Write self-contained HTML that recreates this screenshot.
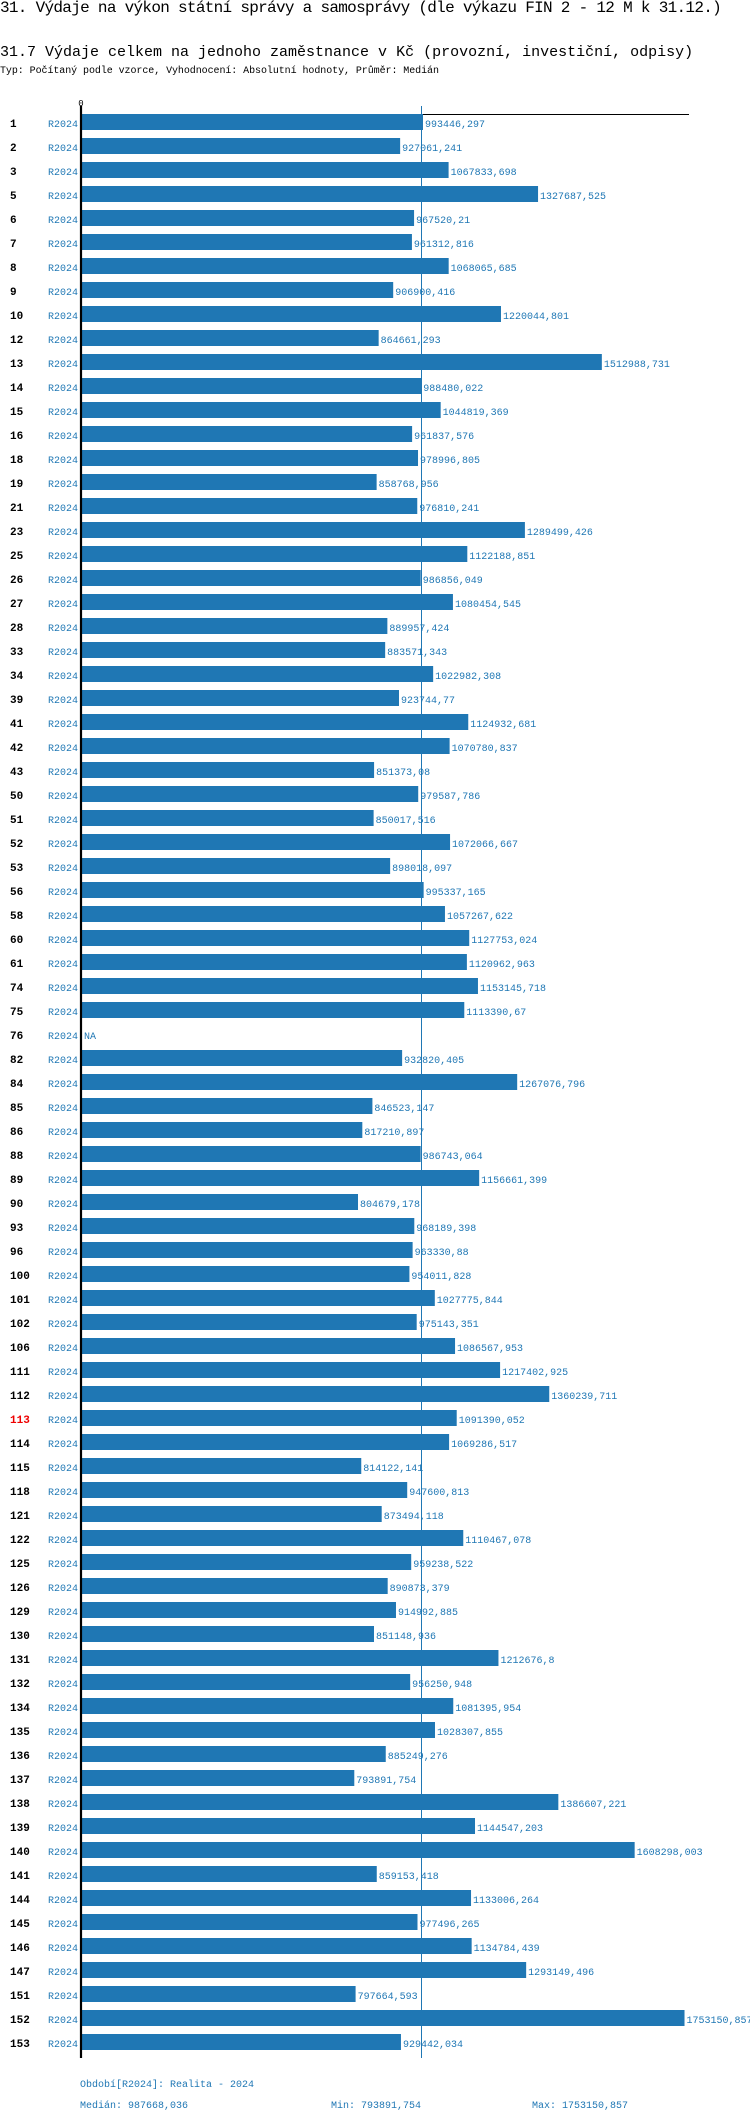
<!DOCTYPE html>
<html><head><meta charset="utf-8">
<style>
html,body{margin:0;padding:0;background:#fff;}
body{width:750px;height:2118px;overflow:hidden;position:relative;font-family:"Liberation Mono",monospace;}
.t{position:absolute;left:0;white-space:nowrap;color:#000;}
</style></head>
<body>
<div class="t" style="top:-1px;font-size:16px;letter-spacing:-0.7px;">31. Výdaje na výkon státní správy a samosprávy (dle výkazu FIN 2 - 12 M k 31.12.)</div>
<div class="t" style="top:44px;font-size:15px;letter-spacing:0px;">31.7 Výdaje celkem na jednoho zaměstnance v Kč (provozní, investiční, odpisy)</div>
<div class="t" style="top:66px;font-size:10px;letter-spacing:-0.07px;">Typ: Počítaný podle vzorce, Vyhodnocení: Absolutní hodnoty, Průměr: Medián</div>
<svg id="chart" width="750" height="2118" style="position:absolute;left:0;top:0" font-family="Liberation Mono, monospace"></svg>
<script>
const categories=[1,2,3,5,6,7,8,9,10,12,13,14,15,16,18,19,21,23,25,26,27,28,33,34,39,41,42,43,50,51,52,53,56,58,60,61,74,75,76,82,84,85,86,88,89,90,93,96,100,101,102,106,111,112,113,114,115,118,121,122,125,126,129,130,131,132,134,135,136,137,138,139,140,141,144,145,146,147,151,152,153];
const values=[993446.297,927061.241,1067833.698,1327687.525,967520.21,961312.816,1068065.685,906900.416,1220044.801,864661.293,1512988.731,988480.022,1044819.369,961837.576,978996.805,858768.956,976810.241,1289499.426,1122188.851,986856.049,1080454.545,889957.424,883571.343,1022982.308,923744.77,1124932.681,1070780.837,851373.08,979587.786,850017.516,1072066.667,898018.097,995337.165,1057267.622,1127753.024,1120962.963,1153145.718,1113390.67,null,932820.405,1267076.796,846523.147,817210.897,986743.064,1156661.399,804679.178,968189.398,963330.88,954011.828,1027775.844,975143.351,1086567.953,1217402.925,1360239.711,1091390.052,1069286.517,814122.141,947600.813,873494.118,1110467.078,959238.522,890873.379,914992.885,851148.936,1212676.8,956250.948,1081395.954,1028307.855,885249.276,793891.754,1386607.221,1144547.203,1608298.003,859153.418,1133006.264,977496.265,1134784.439,1293149.496,797664.593,1753150.857,929442.034];
const periodLabel="R2024";
const highlight=113;
const median=987668.036, minV=793891.754, maxV=1753150.857;

const NS="http://www.w3.org/2000/svg";
const svg=document.getElementById('chart');
const x0=81, scale=(421-81)/987668.036;
const xs=v=>x0+v*scale;
const ys=i=>123+i*24;
const blue="#1f77b4";
function mk(tag,attrs,txt){const e=document.createElementNS(NS,tag);for(const k in attrs)e.setAttribute(k,attrs[k]);if(txt!==undefined)e.textContent=txt;svg.appendChild(e);return e;}
const fmt=v=>String(v).replace('.',',');

let e;
e=mk('line',{x1:xs(median)+0.5,x2:xs(median)+0.5,y1:106,y2:2058,stroke:blue,'stroke-width':1});


e=mk('text',{x:x0,y:106,'font-size':9,'text-anchor':'middle',fill:'#000'},'0');


e=mk('line',{x1:x0,x2:689,y1:114.5,y2:114.5,stroke:'#000','stroke-width':1});



categories.forEach((c,i)=>{
  const cy=ys(i);
  let t=mk('text',{x:10,y:cy+4,'font-size':11,'font-weight':'bold',fill:c===highlight?'#e00':'#000'},String(c));
  
  
  t=mk('text',{x:78,y:cy+4,'font-size':10,'text-anchor':'end',fill:blue},periodLabel);
  
  
  const v=values[i];
  if(v===null){
    t=mk('text',{x:84,y:cy+4,'font-size':10,fill:blue},'NA');
    
    
    return;
  }
  const b=mk('rect',{x:x0+1,y:cy-9,width:xs(v)-x0-1,height:16,fill:blue});
  
  
  t=mk('text',{x:xs(v)+2,y:cy+4,'font-size':10,fill:blue},fmt(v));
  
  
});

e=mk('line',{x1:x0,x2:x0,y1:106,y2:2058,stroke:'#000','stroke-width':2.2});



e=mk('text',{x:80,y:2087,'font-size':10,fill:blue},'Období['+periodLabel+']: Realita - 2024');


e=mk('text',{x:80,y:2108,'font-size':10,fill:blue},'Medián: '+fmt(median));


e=mk('text',{x:331,y:2108,'font-size':10,fill:blue},'Min: '+fmt(minV));


e=mk('text',{x:532,y:2108,'font-size':10,fill:blue},'Max: '+fmt(maxV));


</script>
</body></html>
